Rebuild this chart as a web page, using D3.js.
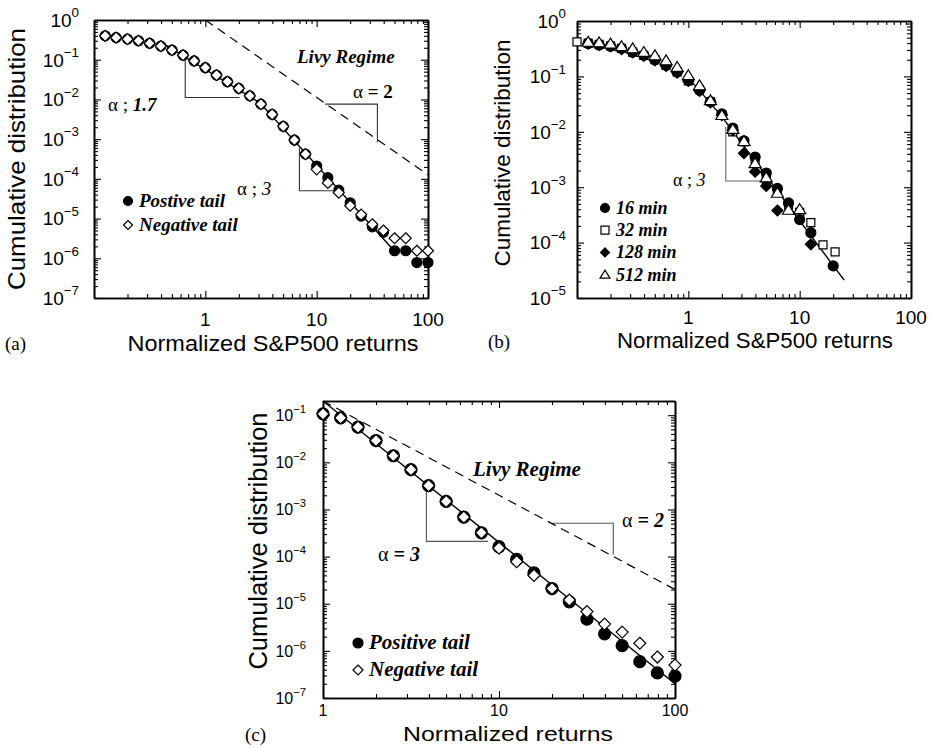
<!DOCTYPE html>
<html>
<head>
<meta charset="utf-8">
<script src="https://cdn.jsdelivr.net/npm/d3@7"></script>
<style>
  body { margin: 0; background: #fff; }
  svg { display: block; }
</style>
</head>
<body>
<div id="chart"></div>
<script>
// ---------- data ----------
// (a) S&P500 cumulative distribution, positive / negative tails
const xA = [0.126, 0.158, 0.2, 0.251, 0.316, 0.398, 0.501, 0.631, 0.794, 1, 1.26, 1.58, 2, 2.51, 3.16,
            3.98, 5.01, 6.31, 7.94, 10, 12.6, 15.8, 20, 25.1, 31.6, 39.8, 50.1, 63.1, 79.4, 100];
const posA = [0.40, 0.36, 0.33, 0.30, 0.26, 0.22, 0.175, 0.13, 0.093, 0.063, 0.041, 0.028, 0.019, 0.0123, 0.0076,
              0.0042, 0.0021, 0.00095, 0.00042, 2.1e-4, 1.07e-4, 5.2e-5, 2.5e-5, 1.15e-5, 6.2e-6, 4.5e-6, 1.55e-6, 1.55e-6, 7.8e-7, 7.8e-7];
const negA = [0.40, 0.36, 0.33, 0.30, 0.26, 0.22, 0.175, 0.13, 0.093, 0.063, 0.041, 0.028, 0.019, 0.0123, 0.0076,
              0.0042, 0.0021, 0.00095, 0.00042, 1.74e-4, 7.9e-5, 4.5e-5, 2.1e-5, 1.26e-5, 7.2e-6, 5.0e-6, 3.2e-6, 3.2e-6, 1.55e-6, 1.55e-6];
const fitA = [[0.44, 0.234], [3.07, 0.0083], [46.5, 1.9e-6]];
const levyA = [[1, 1], [100, 1.26e-4]];
const slopeA = [
  [[0.66, 0.132], [0.66, 0.0112], [2.03, 0.0112]],
  [[7.0, 5.9e-4], [7.0, 5.0e-5], [14.2, 5.0e-5]],
  [[11.9, 7.6e-3], [35.1, 7.6e-3], [35.1, 8.5e-4]]
];

// (b) different time scales
const x16 = [0.126, 0.158, 0.2, 0.251, 0.316, 0.398, 0.501, 0.631, 0.794, 1, 1.26, 1.58, 2, 2.51, 3.16,
             3.98, 5.01, 6.31, 7.94, 10, 12.6, 20];
const y16 = [0.39, 0.37, 0.35, 0.32, 0.275, 0.24, 0.20, 0.158, 0.12, 0.085, 0.056, 0.035, 0.021, 0.0117, 0.0069,
             0.0035, 0.0018, 0.00095, 0.00052, 0.00026, 0.000151, 0.000038];
const x32 = [0.1, 0.126, 0.158, 0.2, 0.251, 0.316, 0.398, 0.501, 0.631, 0.794, 1, 1.26, 1.58, 2, 2.51, 3.16,
             3.98, 5.01, 6.31, 7.94, 10, 12.6, 16.2, 20.8];
const y32 = [0.42, 0.40, 0.38, 0.355, 0.32, 0.275, 0.24, 0.20, 0.158, 0.12, 0.083, 0.058, 0.035, 0.020, 0.010, 0.0066,
             0.0032, 0.00138, 0.00083, 0.00048, 0.00035, 0.00023, 0.000091, 0.000068];
const x128 = [0.126, 0.158, 0.2, 0.251, 0.316, 0.398, 0.501, 0.631, 0.794, 1, 1.26, 1.58, 2, 2.51, 3.16,
              3.98, 5.01, 6.31, 12.6];
const y128 = [0.39, 0.37, 0.35, 0.31, 0.27, 0.235, 0.195, 0.155, 0.117, 0.083, 0.055, 0.034, 0.020, 0.0107, 0.0041,
              0.0019, 0.00105, 0.00038, 0.000093];
const x512 = [0.126, 0.158, 0.2, 0.251, 0.316, 0.398, 0.501, 0.631, 0.794, 1, 1.26, 1.58, 2, 2.51, 3.16,
              3.98, 5.01, 6.31, 7.94, 10];
const y512 = [0.42, 0.41, 0.39, 0.35, 0.32, 0.275, 0.24, 0.195, 0.148, 0.105, 0.069, 0.037, 0.020, 0.0112, 0.0068,
              0.0027, 0.0015, 0.00079, 0.00039, 0.00040];
const fitB = [[1, 0.095], [1.95, 0.020], [2.95, 0.0066], [25.1, 2.1e-5]];
const slopeB = [[[2.17, 0.0123], [2.17, 0.00129], [4.97, 0.00129]]];

// (c) normalized returns
const xC = [1, 1.26, 1.58, 2, 2.51, 3.16, 3.98, 5.01, 6.31, 7.94, 10, 12.6, 15.8, 20, 25.1, 31.6, 39.8, 50.1, 63.1, 79.4, 100];
const posC = [0.107, 0.088, 0.056, 0.029, 0.0138, 0.0070, 0.0032, 0.00148, 0.00069, 0.00032, 0.000162,
              8.7e-5, 4.5e-5, 2.1e-5, 1.1e-5, 4.7e-6, 2.3e-6, 1.29e-6, 5.9e-7, 3.4e-7, 2.9e-7];
const negC = [0.107, 0.088, 0.056, 0.029, 0.0138, 0.0070, 0.0032, 0.00148, 0.00069, 0.00032, 1.51e-4,
              7.8e-5, 4.0e-5, 2.1e-5, 1.2e-5, 6.8e-6, 3.7e-6, 2.5e-6, 1.45e-6, 7.4e-7, 5.0e-7];
const fitC = [[1, 0.2], [100, 2e-7]];
const levyC = [[1, 0.2], [100, 2e-5]];
const slopeC = [
  [[3.87, 0.0024], [3.87, 2.1e-4], [8.67, 2.1e-4]],
  [[20.1, 5.1e-4], [44.6, 5.1e-4], [44.6, 1.1e-4]]
];

const xTickLabels = [1, 10, 100];

// ---------- drawing ----------
const sans = "'Liberation Sans', Arial, Helvetica, sans-serif";
const serif = "'Liberation Serif', 'Times New Roman', serif";

const svg = d3.select("#chart").append("svg")
    .attr("width", 937)
    .attr("height", 748)
    .style("font-family", sans);

const shapePath = {
  circle: r => d3.symbol(d3.symbolCircle, Math.PI * r * r)(),
  diamond: r => `M0,${-r}L${r},0L0,${r}L${-r},0Z`,
  square: r => `M${-r},${-r}H${r}V${r}H${-r}Z`,
  triangle: r => `M0,${-r}L${r * 1.1},${r * 0.8}L${-r * 1.1},${r * 0.8}Z`
};

function marker(g, shape, r, filled, cx, cy) {
  g.append("path")
    .attr("d", shapePath[shape](r))
    .attr("transform", `translate(${cx},${cy})`)
    .attr("fill", filled ? "#000" : "#fff")
    .attr("stroke", "#000")
    .attr("stroke-width", 1.2);
}

// text made of styled parts: [text, weight, style]
function note(g, px, py, parts, size) {
  const t = g.append("text")
    .attr("x", px).attr("y", py)
    .attr("font-family", serif)
    .attr("font-size", size);
  parts.forEach(([s, w, st]) => {
    t.append("tspan")
      .attr("font-weight", w || "normal")
      .attr("font-style", st || "normal")
      .text(s);
  });
}

function drawPanel(p) {
  const g = svg.append("g");
  const x = d3.scaleLog().domain(p.xDomain).range([p.left, p.right]);
  const y = d3.scaleLog().domain(p.yDomain).range([p.bottom, p.top]);

  const isMajor = v => Math.abs(Math.log10(v) - Math.round(Math.log10(v))) < 1e-9;
  const xt = x.ticks(), yt = y.ticks();
  const ticks = {
    x: [xt.filter(isMajor), xt.filter(v => !isMajor(v))],
    y: [yt.filter(isMajor), yt.filter(v => !isMajor(v))]
  };

  // framed box with inward ticks on all four sides
  [[d3.axisBottom, x, "x", `translate(0,${p.bottom})`],
   [d3.axisTop, x, "x", `translate(0,${p.top})`],
   [d3.axisLeft, y, "y", `translate(${p.left},0)`],
   [d3.axisRight, y, "y", `translate(${p.right},0)`]].forEach(([fn, sc, k, tr]) => {
    [[ticks[k][0], -7], [ticks[k][1], -4]].forEach(([vals, size]) => {
      const a = g.append("g").attr("transform", tr)
        .call(fn(sc).tickValues(vals).tickSizeInner(size).tickSizeOuter(0).tickFormat(""));
      a.select(".domain").attr("stroke", "#000").attr("stroke-width", 1.6);
      a.selectAll(".tick line").attr("stroke", "#000").attr("stroke-width", 1.1);
    });
  });

  // y tick labels 10^n
  ticks.y[0].forEach(v => {
    const e = Math.round(Math.log10(v));
    const t = g.append("text")
      .attr("x", p.yLabelX)
      .attr("y", y(v) + p.tickFont * 0.36)
      .attr("text-anchor", "end")
      .attr("font-size", p.tickFont);
    t.append("tspan").text("10");
    t.append("tspan")
      .attr("dy", -p.tickFont * 0.5)
      .attr("font-size", p.tickFont * 0.7)
      .text(e === 0 ? "0" : "\u2212" + (-e));
  });

  // x tick labels
  g.selectAll(".xl").data(xTickLabels.filter(v => v >= p.xDomain[0] && v <= p.xDomain[1]))
    .join("text")
      .attr("x", d => x(d))
      .attr("y", p.xLabelY)
      .attr("text-anchor", "middle")
      .attr("font-size", p.tickFont)
      .text(d => d);

  // axis titles
  g.append("text")
    .attr("x", p.xTitle[0]).attr("y", p.xTitle[1])
    .attr("text-anchor", "middle")
    .attr("font-size", p.xTitle[2])
    .attr("textLength", p.xTitle[3])
    .attr("lengthAdjust", "spacingAndGlyphs")
    .text(p.xTitleText);
  g.append("text")
    .attr("transform", `translate(${p.yTitle[0]},${p.yTitle[1]}) rotate(-90)`)
    .attr("text-anchor", "middle")
    .attr("font-size", p.yTitle[2])
    .attr("textLength", p.yTitle[3])
    .attr("lengthAdjust", "spacingAndGlyphs")
    .text("Cumulative distribution");
  g.append("text")
    .attr("x", p.tag[0]).attr("y", p.tag[1])
    .attr("font-family", serif)
    .attr("font-size", 19)
    .text(p.tag[2]);

  const line = d3.line().x(d => x(d[0])).y(d => y(d[1]));

  (p.slopes || []).forEach(s => {
    g.append("path").datum(s).attr("d", line)
      .attr("fill", "none").attr("stroke", p.slopeColor).attr("stroke-width", 1.1);
  });
  if (p.levy) {
    g.append("path").datum(p.levy).attr("d", line)
      .attr("fill", "none").attr("stroke", "#000").attr("stroke-width", 1.2)
      .attr("stroke-dasharray", "9,6");
  }
  g.append("path").datum(p.fit).attr("d", line)
    .attr("fill", "none").attr("stroke", "#000").attr("stroke-width", 1.4);

  p.series.forEach(s => {
    s.xs.forEach((xv, i) => marker(g, s.shape, s.r, s.filled, x(xv), y(s.ys[i])));
  });

  // legend
  p.legend.forEach((l, i) => {
    const cy = p.legendPos[1] + i * p.legendStep;
    marker(g, l.shape, l.r, l.filled, p.legendPos[0], cy);
    note(g, p.legendPos[0] + 11, cy + 6, [[l.label, "bold", "italic"]], p.legendFont);
  });

  (p.notes || []).forEach(n => note(g, n[0], n[1], n[2], n[3]));
}

drawPanel({
  left: 94, right: 428, top: 20, bottom: 298,
  xDomain: [0.1, 100], yDomain: [1e-7, 1],
  tickFont: 19, yLabelX: 79, xLabelY: 326,
  xTitleText: "Normalized S&P500 returns", xTitle: [273, 351, 22, 291],
  yTitle: [25, 159, 24, 262],
  tag: [5, 350, "(a)"],
  fit: fitA, levy: levyA, slopes: slopeA, slopeColor: "#333",
  series: [
    {xs: xA, ys: posA, shape: "circle", r: 5, filled: true},
    {xs: xA, ys: negA, shape: "diamond", r: 5.5, filled: false}
  ],
  legend: [
    {label: "Postive tail", shape: "circle", r: 4.5, filled: true},
    {label: "Negative tail", shape: "diamond", r: 4.5, filled: false}
  ],
  legendPos: [128, 201], legendStep: 24, legendFont: 19,
  notes: [
    [297, 63, [["Livy Regime", "bold", "italic"]], 19],
    [353, 98, [["\u03b1", "normal"], [" = 2", "bold"]], 19],
    [108, 111, [["\u03b1 ; ", "normal"], ["1.7", "bold", "italic"]], 19],
    [237, 195, [["\u03b1 ; ", "normal"], ["3", "normal", "italic"]], 19]
  ]
});

drawPanel({
  left: 577, right: 911, top: 21, bottom: 298,
  xDomain: [0.1, 100], yDomain: [1e-5, 1],
  tickFont: 19, yLabelX: 566, xLabelY: 324,
  xTitleText: "Normalized S&P500 returns", xTitle: [755, 348, 22, 276],
  yTitle: [510, 153, 22, 227],
  tag: [488, 348, "(b)"],
  fit: fitB, slopes: slopeB, slopeColor: "#666",
  series: [
    {xs: x32, ys: y32, shape: "square", r: 4, filled: false},
    {xs: x128, ys: y128, shape: "diamond", r: 5.5, filled: true},
    {xs: x16, ys: y16, shape: "circle", r: 5, filled: true},
    {xs: x512, ys: y512, shape: "triangle", r: 5.5, filled: false}
  ],
  legend: [
    {label: "16 min", shape: "circle", r: 4.5, filled: true},
    {label: "32 min", shape: "square", r: 4, filled: false},
    {label: "128 min", shape: "diamond", r: 4.5, filled: true},
    {label: "512 min", shape: "triangle", r: 4.5, filled: false}
  ],
  legendPos: [605, 208], legendStep: 22.2, legendFont: 18,
  notes: [
    [673, 186, [["\u03b1 ; ", "normal"], ["3", "normal", "italic"]], 18]
  ]
});

drawPanel({
  left: 323, right: 675, top: 401, bottom: 698,
  xDomain: [1, 100], yDomain: [1e-7, 0.2],
  tickFont: 16, yLabelX: 306, xLabelY: 716,
  xTitleText: "Normalized returns", xTitle: [508, 741, 21, 210],
  yTitle: [267, 541, 25, 257],
  tag: [245, 741, "(c)"],
  fit: fitC, levy: levyC, slopes: slopeC, slopeColor: "#555",
  series: [
    {xs: xC, ys: posC, shape: "circle", r: 6, filled: true},
    {xs: xC, ys: negC, shape: "diamond", r: 6, filled: false}
  ],
  legend: [
    {label: "Positive tail", shape: "circle", r: 5, filled: true},
    {label: "Negative tail", shape: "diamond", r: 5, filled: false}
  ],
  legendPos: [358, 643], legendStep: 27, legendFont: 21,
  notes: [
    [473, 476, [["Livy Regime", "bold", "italic"]], 21],
    [622, 527, [["\u03b1", "normal"], [" = 2", "bold", "italic"]], 20],
    [378, 561, [["\u03b1", "normal"], [" = 3", "bold", "italic"]], 20]
  ]
});
</script>
</body>
</html>
